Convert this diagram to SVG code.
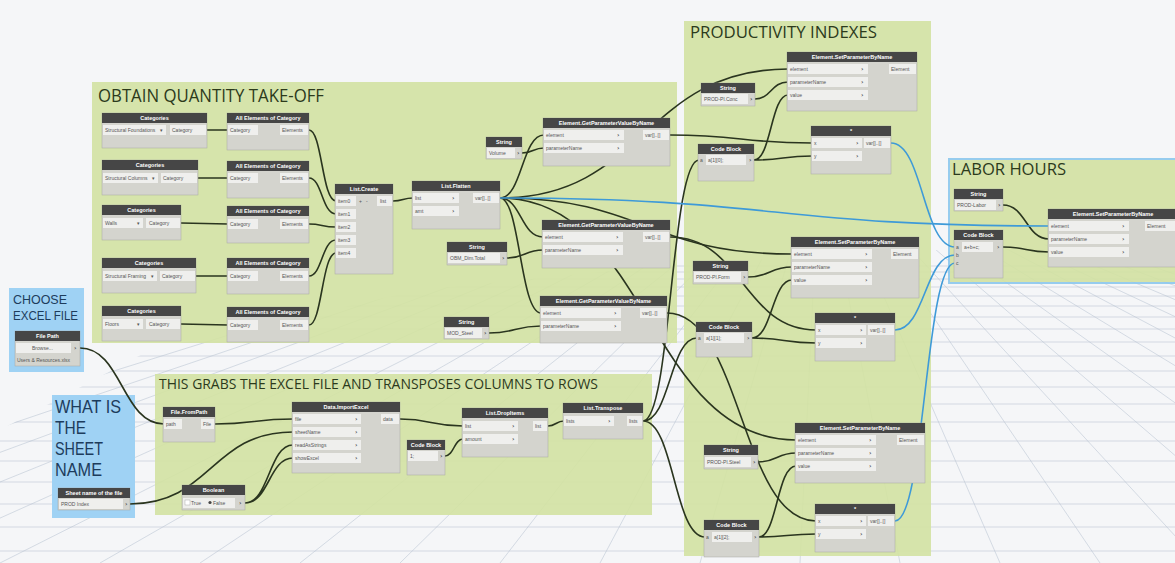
<svg xmlns="http://www.w3.org/2000/svg" width="1175" height="563" viewBox="0 0 1175 563">
<style>
.bg{fill:#f5f6f8}
.gl{stroke:#b9c4d3;stroke-width:0.7;fill:none;opacity:0.8}
.grg{fill:#d3e2a2;opacity:0.9}
.grb{fill:#9fd2f4}
.gtg{font-family:"Open Sans","Liberation Sans",sans-serif;fill:#2c3a1c}
.gtb{font-family:"Liberation Sans",Arial,sans-serif;fill:#1d3c5c}
.body{fill:#d4d4ce;stroke:#a9a9a3;stroke-width:0.5}
.hdr{fill:#464646}
.ht{font-family:"Liberation Sans",Arial,sans-serif;font-size:5.5px;fill:#ffffff;text-anchor:middle;font-weight:bold}
.pf{fill:#efefed}
.pt{font-family:"Liberation Sans",Arial,sans-serif;font-size:5px;fill:#555555}
.ch{font-family:"DejaVu Sans",sans-serif;font-size:6px;fill:#444444;font-weight:bold}
.w{stroke:#2a351f;stroke-width:1.6;fill:none}
.wb{stroke:#3e9ad8;stroke-width:1.6;fill:none}
</style>
<defs>
<clipPath id="gclip"><polygon points="0,430 150,350 420,290 700,262 1175,238 1175,563 0,563"/></clipPath>
</defs>
<rect class="bg" x="0" y="0" width="1175" height="563"/>
<g id="grid" clip-path="url(#gclip)">
<path class="gl" d="M0 266H1175M0 272H1175M0 279H1175M0 287H1175M0 296H1175M0 306H1175M0 317H1175M0 329H1175M0 342H1175M0 356H1175M0 371H1175M0 387H1175M0 404H1175M0 422H1175M0 441H1175M0 461H1175M0 482H1175M0 504H1175M0 527H1175M0 551H1175"/>
<path class="gl" d="M820 150L-1600 563M820 150L-1500 563M820 150L-1400 563M820 150L-1300 563M820 150L-1200 563M820 150L-1100 563M820 150L-1000 563M820 150L-900 563M820 150L-800 563M820 150L-700 563M820 150L-600 563M820 150L-500 563M820 150L-400 563M820 150L-300 563M820 150L-200 563M820 150L-100 563M820 150L0 563M820 150L100 563M820 150L200 563M820 150L300 563M820 150L400 563M820 150L500 563M820 150L600 563M820 150L700 563M820 150L800 563M820 150L900 563M820 150L1000 563M820 150L1100 563M820 150L1200 563M820 150L1300 563M820 150L1400 563M820 150L1500 563M820 150L1600 563M820 150L1700 563M820 150L1800 563M820 150L1900 563M820 150L2000 563M820 150L2100 563M820 150L2200 563M820 150L2300 563M820 150L2400 563M820 150L2500 563M820 150L2600 563M820 150L2700 563M820 150L2800 563M820 150L2900 563M820 150L3000 563M820 150L3100 563M820 150L3200 563"/>
</g>

<g id="group-obtain">
<rect class="grg" x="92" y="82" width="585" height="261"/>
<text class="gtg" x="98" y="102" font-size="18" textLength="226" lengthAdjust="spacingAndGlyphs">OBTAIN QUANTITY TAKE-OFF</text>
</g>
<g id="group-productivity">
<rect class="grg" x="684" y="21" width="247" height="535"/>
<text class="gtg" x="690" y="38" font-size="16.5" textLength="187" lengthAdjust="spacingAndGlyphs">PRODUCTIVITY INDEXES</text>
</g>
<g id="group-labor">
<rect class="grg" x="949" y="159" width="232" height="124" stroke="#8cc8ee" stroke-width="2"/>
<text class="gtg" x="952" y="175" font-size="15.5" textLength="114" lengthAdjust="spacingAndGlyphs">LABOR HOURS</text>
</g>
<g id="group-choose">
<rect class="grb" x="9" y="288" width="75" height="84"/>
<text class="gtb" x="13" y="304" font-size="13.5" textLength="54" lengthAdjust="spacingAndGlyphs">CHOOSE</text>
<text class="gtb" x="13" y="320" font-size="13.5" textLength="65" lengthAdjust="spacingAndGlyphs">EXCEL FILE</text>
</g>
<g id="group-sheet">
<rect class="grb" x="52" y="395" width="83" height="123"/>
<text class="gtb" x="55" y="413" font-size="17.5" textLength="66" lengthAdjust="spacingAndGlyphs">WHAT IS</text>
<text class="gtb" x="55" y="434" font-size="17.5" textLength="31" lengthAdjust="spacingAndGlyphs">THE</text>
<text class="gtb" x="55" y="455" font-size="17.5" textLength="48" lengthAdjust="spacingAndGlyphs">SHEET</text>
<text class="gtb" x="55" y="476" font-size="17.5" textLength="47" lengthAdjust="spacingAndGlyphs">NAME</text>
</g>
<g id="group-excel">
<rect class="grg" x="155" y="374" width="497" height="141"/>
<text class="gtg" x="159" y="389" font-size="14" textLength="439" lengthAdjust="spacingAndGlyphs">THIS GRABS THE EXCEL FILE AND TRANSPOSES COLUMNS TO ROWS</text>
</g>

<g id="connectors">
<path class="w" d="M207 130L228 130M198 178L228 178M181 223L228 224M196 276L228 276M181 324L228 325"/>
<path class="w" d="M309 130C322 130 322 201 336 201M309 178C322 178 322 214 336 214M309 224C322 224 322 227 336 227M309 276C322 276 322 240 336 240M309 325C322 325 322 253 336 253"/>
<path class="w" d="M393 201C403 201 403 198 413 198"/>
<path class="w" d="M500 198C522 198 522 135 544 135M500 198C521 198 521 237 543 237M500 198C520 198 520 313 541 313"/>
<path class="w" d="M500 198C644 198 644 69 788 69M500 198C646 198 646 254 792 254M500 198C648 198 648 440 796 440"/>
<path class="w" d="M522 153C533 153 533 148 544 148M507 258C525 258 525 250 543 250M489 333C515 333 515 326 541 326"/>
<path class="w" d="M670 135C741 135 741 143 812 143M670 237C743 237 743 330 816 330M667 313C741 313 741 521 816 521"/>
<path class="w" d="M755 99C771 99 771 82 788 82M754 160C771 160 771 95 788 95M754 160C783 160 783 156 812 156"/>
<path class="w" d="M748 277C770 277 770 267 792 267M752 338C772 338 772 280 792 280M752 338C784 338 784 343 816 343"/>
<path class="w" d="M758 462C777 462 777 453 796 453M759 537C777 537 777 466 796 466M759 537C787 537 787 534 816 534"/>
<path class="w" d="M643 421C671 421 671 160 699 160M643 421C670 421 670 338 697 338M643 421C674 421 674 537 705 537"/>
<path class="w" d="M80 348C122 348 122 424 164 424M130 504C211 504 211 432 293 432M245 503C269 503 269 445 293 445M245 503C269 503 269 458 293 458"/>
<path class="w" d="M215 424C254 424 254 419 293 419M400 419C431 419 431 426 463 426M445 456C454 456 454 439 463 439M548 426C556 426 556 421 564 421"/>
<path class="w" d="M1003 205C1026 205 1026 239 1049 239M1003 247C1026 247 1026 252 1049 252"/>
<path class="wb" d="M500 198C775 198 775 226 1049 226"/>
<path class="wb" d="M891 143C923 143 923 247 955 247M895 330C925 330 925 255 955 255M895 521C925 521 925 263 955 263"/>
</g>

<g id="cat1">
<rect class="body" x="102" y="113" width="105" height="35"/><rect class="hdr" x="102" y="113" width="105" height="10"/>
<text class="ht" x="154.5" y="120">Categories</text>
<rect class="pf" x="103" y="125" width="63" height="10"/><text class="pt" x="105" y="132">Structural Foundations</text><text class="pt" x="160" y="132">▾</text>
<rect class="pf" x="170" y="125" width="36" height="10"/><text class="pt" x="172" y="132">Category</text>
</g>
<g id="cat2">
<rect class="body" x="102" y="160" width="96" height="35"/><rect class="hdr" x="102" y="160" width="96" height="10"/>
<text class="ht" x="150" y="167">Categories</text>
<rect class="pf" x="103" y="173" width="55" height="10"/><text class="pt" x="105" y="180">Structural Columns</text><text class="pt" x="152" y="180">▾</text>
<rect class="pf" x="161" y="173" width="36" height="10"/><text class="pt" x="163" y="180">Category</text>
</g>
<g id="cat3">
<rect class="body" x="102" y="205" width="79" height="35"/><rect class="hdr" x="102" y="205" width="79" height="10"/>
<text class="ht" x="141.5" y="212">Categories</text>
<rect class="pf" x="103" y="218" width="40" height="10"/><text class="pt" x="105" y="225">Walls</text><text class="pt" x="137" y="225">▾</text>
<rect class="pf" x="146" y="218" width="34" height="10"/><text class="pt" x="149" y="225">Category</text>
</g>
<g id="cat4">
<rect class="body" x="102" y="258" width="94" height="35"/><rect class="hdr" x="102" y="258" width="94" height="10"/>
<text class="ht" x="149" y="265">Categories</text>
<rect class="pf" x="103" y="271" width="54" height="10"/><text class="pt" x="105" y="278">Structural Framing</text><text class="pt" x="151" y="278">▾</text>
<rect class="pf" x="160" y="271" width="35" height="10"/><text class="pt" x="162" y="278">Category</text>
</g>
<g id="cat5">
<rect class="body" x="102" y="306" width="79" height="35"/><rect class="hdr" x="102" y="306" width="79" height="10"/>
<text class="ht" x="141.5" y="313">Categories</text>
<rect class="pf" x="103" y="319" width="40" height="10"/><text class="pt" x="105" y="326">Floors</text><text class="pt" x="137" y="326">▾</text>
<rect class="pf" x="146" y="319" width="34" height="10"/><text class="pt" x="149" y="326">Category</text>
</g>

<g id="aeoc1">
<rect class="body" x="227" y="113" width="82" height="37"/><rect class="hdr" x="227" y="113" width="82" height="10"/>
<text class="ht" x="268" y="120">All Elements of Category</text>
<rect class="pf" x="228" y="125" width="30" height="10"/><text class="pt" x="230" y="132">Category</text>
<rect class="pf" x="280" y="125" width="28" height="10"/><text class="pt" x="282" y="132">Elements</text>
</g>
<g id="aeoc2">
<rect class="body" x="227" y="161" width="82" height="37"/><rect class="hdr" x="227" y="161" width="82" height="10"/>
<text class="ht" x="268" y="168">All Elements of Category</text>
<rect class="pf" x="228" y="173" width="30" height="10"/><text class="pt" x="230" y="180">Category</text>
<rect class="pf" x="280" y="173" width="28" height="10"/><text class="pt" x="282" y="180">Elements</text>
</g>
<g id="aeoc3">
<rect class="body" x="227" y="206" width="82" height="37"/><rect class="hdr" x="227" y="206" width="82" height="10"/>
<text class="ht" x="268" y="213">All Elements of Category</text>
<rect class="pf" x="228" y="219" width="30" height="10"/><text class="pt" x="230" y="226">Category</text>
<rect class="pf" x="280" y="219" width="28" height="10"/><text class="pt" x="282" y="226">Elements</text>
</g>
<g id="aeoc4">
<rect class="body" x="227" y="258" width="82" height="36"/><rect class="hdr" x="227" y="258" width="82" height="10"/>
<text class="ht" x="268" y="265">All Elements of Category</text>
<rect class="pf" x="228" y="271" width="30" height="10"/><text class="pt" x="230" y="278">Category</text>
<rect class="pf" x="280" y="271" width="28" height="10"/><text class="pt" x="282" y="278">Elements</text>
</g>
<g id="aeoc5">
<rect class="body" x="227" y="307" width="82" height="35"/><rect class="hdr" x="227" y="307" width="82" height="10"/>
<text class="ht" x="268" y="314">All Elements of Category</text>
<rect class="pf" x="228" y="320" width="30" height="10"/><text class="pt" x="230" y="327">Category</text>
<rect class="pf" x="280" y="320" width="28" height="10"/><text class="pt" x="282" y="327">Elements</text>
</g>

<g id="list-create">
<rect class="body" x="335" y="184" width="58" height="90"/><rect class="hdr" x="335" y="184" width="58" height="10"/>
<text class="ht" x="364" y="191">List.Create</text>
<rect class="pf" x="336" y="196" width="20" height="10"/><text class="pt" x="338" y="203">item0</text>
<text class="pt" x="359" y="203">+</text><text class="pt" x="366" y="203">-</text>
<rect class="pf" x="377" y="196" width="15" height="10"/><text class="pt" x="380" y="203">list</text>
<rect class="pf" x="336" y="209" width="20" height="10"/><text class="pt" x="338" y="216">item1</text>
<rect class="pf" x="336" y="222" width="20" height="10"/><text class="pt" x="338" y="229">item2</text>
<rect class="pf" x="336" y="235" width="20" height="10"/><text class="pt" x="338" y="242">item3</text>
<rect class="pf" x="336" y="248" width="20" height="10"/><text class="pt" x="338" y="255">item4</text>
</g>

<g id="list-flatten">
<rect class="body" x="412" y="181" width="88" height="48"/><rect class="hdr" x="412" y="181" width="88" height="10"/>
<text class="ht" x="456" y="188">List.Flatten</text>
<rect class="pf" x="413" y="193" width="46" height="10"/><text class="pt" x="415" y="200">list</text><text class="ch" x="452" y="200">›</text>
<rect class="pf" x="413" y="206" width="46" height="10"/><text class="pt" x="415" y="213">amt</text><text class="ch" x="452" y="213">›</text>
<rect class="pf" x="473" y="193" width="26" height="10"/><text class="pt" x="475" y="200">var[]..[]</text>
</g>

<g id="str-volume">
<rect class="body" x="486" y="137" width="36" height="22"/><rect class="hdr" x="486" y="137" width="36" height="10"/>
<text class="ht" x="504" y="144">String</text>
<rect class="pf" x="487" y="148" width="28" height="10"/><text class="pt" x="489" y="155">Volume</text><text class="ch" x="517" y="155">›</text>
</g>
<g id="gpv1">
<rect class="body" x="543" y="118" width="127" height="48"/><rect class="hdr" x="543" y="118" width="127" height="10"/>
<text class="ht" x="606.5" y="125">Element.GetParameterValueByName</text>
<rect class="pf" x="544" y="130" width="80" height="10"/><text class="pt" x="546" y="137">element</text><text class="ch" x="617" y="137">›</text>
<rect class="pf" x="544" y="143" width="80" height="10"/><text class="pt" x="546" y="150">parameterName</text><text class="ch" x="617" y="150">›</text>
<rect class="pf" x="643" y="130" width="26" height="10"/><text class="pt" x="645" y="137">var[]..[]</text>
</g>
<g id="str-obm">
<rect class="body" x="447" y="242" width="60" height="23"/><rect class="hdr" x="447" y="242" width="60" height="10"/>
<text class="ht" x="477" y="249">String</text>
<rect class="pf" x="448" y="253" width="52" height="10"/><text class="pt" x="450" y="260">OBM_Dim.Total</text><text class="ch" x="502" y="260">›</text>
</g>
<g id="gpv2">
<rect class="body" x="542" y="220" width="128" height="48"/><rect class="hdr" x="542" y="220" width="128" height="10"/>
<text class="ht" x="606" y="227">Element.GetParameterValueByName</text>
<rect class="pf" x="543" y="232" width="80" height="10"/><text class="pt" x="545" y="239">element</text><text class="ch" x="616" y="239">›</text>
<rect class="pf" x="543" y="245" width="80" height="10"/><text class="pt" x="545" y="252">parameterName</text><text class="ch" x="616" y="252">›</text>
<rect class="pf" x="643" y="232" width="26" height="10"/><text class="pt" x="645" y="239">var[]..[]</text>
</g>
<g id="str-mod">
<rect class="body" x="444" y="317" width="45" height="22"/><rect class="hdr" x="444" y="317" width="45" height="10"/>
<text class="ht" x="466.5" y="324">String</text>
<rect class="pf" x="445" y="328" width="37" height="10"/><text class="pt" x="447" y="335">MOD_Steel</text><text class="ch" x="484" y="335">›</text>
</g>
<g id="gpv3">
<rect class="body" x="540" y="296" width="127" height="47"/><rect class="hdr" x="540" y="296" width="127" height="10"/>
<text class="ht" x="603.5" y="303">Element.GetParameterValueByName</text>
<rect class="pf" x="541" y="308" width="80" height="10"/><text class="pt" x="543" y="315">element</text><text class="ch" x="614" y="315">›</text>
<rect class="pf" x="541" y="321" width="80" height="10"/><text class="pt" x="543" y="328">parameterName</text><text class="ch" x="614" y="328">›</text>
<rect class="pf" x="640" y="308" width="26" height="10"/><text class="pt" x="642" y="315">var[]..[]</text>
</g>

<g id="setp1">
<rect class="body" x="787" y="52" width="130" height="59"/><rect class="hdr" x="787" y="52" width="130" height="10"/>
<text class="ht" x="852" y="59">Element.SetParameterByName</text>
<rect class="pf" x="788" y="64" width="80" height="10"/><text class="pt" x="790" y="71">element</text><text class="ch" x="861" y="71">›</text>
<rect class="pf" x="788" y="77" width="80" height="10"/><text class="pt" x="790" y="84">parameterName</text><text class="ch" x="861" y="84">›</text>
<rect class="pf" x="788" y="90" width="80" height="10"/><text class="pt" x="790" y="97">value</text><text class="ch" x="861" y="97">›</text>
<rect class="pf" x="889" y="64" width="27" height="10"/><text class="pt" x="891" y="71">Element</text>
</g>
<g id="str-conc">
<rect class="body" x="701" y="83" width="54" height="23"/><rect class="hdr" x="701" y="83" width="54" height="10"/>
<text class="ht" x="728" y="90">String</text>
<rect class="pf" x="702" y="94" width="46" height="10"/><text class="pt" x="704" y="101">PROD-Pl.Conc</text><text class="ch" x="750" y="101">›</text>
</g>
<g id="cb1">
<rect class="body" x="698" y="144" width="56" height="37"/><rect class="hdr" x="698" y="144" width="56" height="10"/>
<text class="ht" x="726" y="151">Code Block</text>
<text class="pt" x="700" y="162">a</text>
<rect class="pf" x="706" y="155" width="40" height="10"/><text class="pt" x="708" y="162">a[1][0];</text><text class="ch" x="749" y="162">›</text>
</g>
<g id="mul1">
<rect class="body" x="811" y="126" width="80" height="48"/><rect class="hdr" x="811" y="126" width="80" height="10"/>
<text class="ht" x="851" y="133">*</text>
<rect class="pf" x="812" y="138" width="50" height="10"/><text class="pt" x="814" y="145">x</text><text class="ch" x="856" y="145">›</text>
<rect class="pf" x="812" y="151" width="50" height="10"/><text class="pt" x="814" y="158">y</text><text class="ch" x="856" y="158">›</text>
<rect class="pf" x="864" y="138" width="26" height="10"/><text class="pt" x="866" y="145">var[]..[]</text>
</g>

<g id="setp2">
<rect class="body" x="791" y="237" width="128" height="61"/><rect class="hdr" x="791" y="237" width="128" height="10"/>
<text class="ht" x="855" y="244">Element.SetParameterByName</text>
<rect class="pf" x="792" y="249" width="80" height="10"/><text class="pt" x="794" y="256">element</text><text class="ch" x="865" y="256">›</text>
<rect class="pf" x="792" y="262" width="80" height="10"/><text class="pt" x="794" y="269">parameterName</text><text class="ch" x="865" y="269">›</text>
<rect class="pf" x="792" y="275" width="80" height="10"/><text class="pt" x="794" y="282">value</text><text class="ch" x="865" y="282">›</text>
<rect class="pf" x="891" y="249" width="27" height="10"/><text class="pt" x="893" y="256">Element</text>
</g>
<g id="str-form">
<rect class="body" x="693" y="261" width="55" height="23"/><rect class="hdr" x="693" y="261" width="55" height="10"/>
<text class="ht" x="720.5" y="268">String</text>
<rect class="pf" x="694" y="272" width="47" height="10"/><text class="pt" x="696" y="279">PROD-Pl.Form</text><text class="ch" x="743" y="279">›</text>
</g>
<g id="cb2">
<rect class="body" x="696" y="322" width="56" height="35"/><rect class="hdr" x="696" y="322" width="56" height="10"/>
<text class="ht" x="724" y="329">Code Block</text>
<text class="pt" x="698" y="340">a</text>
<rect class="pf" x="704" y="333" width="40" height="10"/><text class="pt" x="706" y="340">a[1][1];</text><text class="ch" x="747" y="340">›</text>
</g>
<g id="mul2">
<rect class="body" x="815" y="313" width="80" height="48"/><rect class="hdr" x="815" y="313" width="80" height="10"/>
<text class="ht" x="855" y="320">*</text>
<rect class="pf" x="816" y="325" width="50" height="10"/><text class="pt" x="818" y="332">x</text><text class="ch" x="860" y="332">›</text>
<rect class="pf" x="816" y="338" width="50" height="10"/><text class="pt" x="818" y="345">y</text><text class="ch" x="860" y="345">›</text>
<rect class="pf" x="868" y="325" width="26" height="10"/><text class="pt" x="870" y="332">var[]..[]</text>
</g>

<g id="setp3">
<rect class="body" x="795" y="423" width="130" height="60"/><rect class="hdr" x="795" y="423" width="130" height="10"/>
<text class="ht" x="860" y="430">Element.SetParameterByName</text>
<rect class="pf" x="796" y="435" width="80" height="10"/><text class="pt" x="798" y="442">element</text><text class="ch" x="869" y="442">›</text>
<rect class="pf" x="796" y="448" width="80" height="10"/><text class="pt" x="798" y="455">parameterName</text><text class="ch" x="869" y="455">›</text>
<rect class="pf" x="796" y="461" width="80" height="10"/><text class="pt" x="798" y="468">value</text><text class="ch" x="869" y="468">›</text>
<rect class="pf" x="897" y="435" width="27" height="10"/><text class="pt" x="899" y="442">Element</text>
</g>
<g id="str-steel">
<rect class="body" x="704" y="445" width="54" height="24"/><rect class="hdr" x="704" y="445" width="54" height="10"/>
<text class="ht" x="731" y="452">String</text>
<rect class="pf" x="705" y="457" width="46" height="10"/><text class="pt" x="707" y="464">PROD-Pl.Steel</text><text class="ch" x="753" y="464">›</text>
</g>
<g id="cb3">
<rect class="body" x="704" y="520" width="55" height="37"/><rect class="hdr" x="704" y="520" width="55" height="10"/>
<text class="ht" x="731.5" y="527">Code Block</text>
<text class="pt" x="706" y="539">a</text>
<rect class="pf" x="712" y="532" width="40" height="10"/><text class="pt" x="714" y="539">a[1][2];</text><text class="ch" x="754" y="539">›</text>
</g>
<g id="mul3">
<rect class="body" x="815" y="504" width="80" height="48"/><rect class="hdr" x="815" y="504" width="80" height="10"/>
<text class="ht" x="855" y="511">*</text>
<rect class="pf" x="816" y="516" width="50" height="10"/><text class="pt" x="818" y="523">x</text><text class="ch" x="860" y="523">›</text>
<rect class="pf" x="816" y="529" width="50" height="10"/><text class="pt" x="818" y="536">y</text><text class="ch" x="860" y="536">›</text>
<rect class="pf" x="868" y="516" width="26" height="10"/><text class="pt" x="870" y="523">var[]..[]</text>
</g>

<g id="str-labor">
<rect class="body" x="954" y="189" width="49" height="22"/><rect class="hdr" x="954" y="189" width="49" height="10"/>
<text class="ht" x="978.5" y="196">String</text>
<rect class="pf" x="955" y="200" width="41" height="10"/><text class="pt" x="957" y="207">PROD-Labor</text><text class="ch" x="998" y="207">›</text>
</g>
<g id="cb-labor">
<rect class="body" x="954" y="230" width="49" height="48"/><rect class="hdr" x="954" y="230" width="49" height="10"/>
<text class="ht" x="978.5" y="237">Code Block</text>
<text class="pt" x="956" y="249">a</text><text class="pt" x="956" y="257">b</text><text class="pt" x="956" y="265">c</text>
<rect class="pf" x="962" y="242" width="31" height="10"/><text class="pt" x="964" y="249">a+b+c;</text><text class="ch" x="997" y="249">›</text>
</g>
<g id="setp-labor">
<rect class="body" x="1048" y="209" width="140" height="58"/><rect class="hdr" x="1048" y="209" width="140" height="10"/>
<text class="ht" x="1113" y="216">Element.SetParameterByName</text>
<rect class="pf" x="1049" y="221" width="80" height="10"/><text class="pt" x="1051" y="228">element</text><text class="ch" x="1122" y="228">›</text>
<rect class="pf" x="1049" y="234" width="80" height="10"/><text class="pt" x="1051" y="241">parameterName</text><text class="ch" x="1122" y="241">›</text>
<rect class="pf" x="1049" y="247" width="80" height="10"/><text class="pt" x="1051" y="254">value</text><text class="ch" x="1122" y="254">›</text>
<rect class="pf" x="1145" y="221" width="30" height="10"/><text class="pt" x="1147" y="228">Element</text>
</g>

<g id="file-path">
<rect class="body" x="15" y="331" width="65" height="35"/><rect class="hdr" x="15" y="331" width="65" height="10"/>
<text class="ht" x="47.5" y="338">File Path</text>
<rect class="pf" x="16" y="343" width="55" height="10"/><text class="pt" x="32" y="350">Browse...</text><text class="ch" x="74" y="350">›</text>
<text class="pt" x="17" y="362" font-size="4.5">Users &amp; Resources.xlsx</text>
</g>
<g id="sheet-name">
<rect class="body" x="58" y="488" width="72" height="22"/><rect class="hdr" x="58" y="488" width="72" height="10"/>
<text class="ht" x="94" y="495">Sheet name of the file</text>
<rect class="pf" x="59" y="499" width="64" height="10"/><text class="pt" x="61" y="506">PROD Index</text><text class="ch" x="125" y="506">›</text>
</g>
<g id="file-frompath">
<rect class="body" x="163" y="407" width="52" height="35"/><rect class="hdr" x="163" y="407" width="52" height="10"/>
<text class="ht" x="189" y="414">File.FromPath</text>
<rect class="pf" x="164" y="419" width="18" height="10"/><text class="pt" x="166" y="426">path</text>
<rect class="pf" x="201" y="419" width="13" height="10"/><text class="pt" x="203" y="426">File</text>
</g>
<g id="import-excel">
<rect class="body" x="292" y="402" width="108" height="71"/><rect class="hdr" x="292" y="402" width="108" height="10"/>
<text class="ht" x="346" y="409">Data.ImportExcel</text>
<rect class="pf" x="293" y="414" width="68" height="10"/><text class="pt" x="295" y="421">file</text><text class="ch" x="355" y="421">›</text>
<rect class="pf" x="293" y="427" width="68" height="10"/><text class="pt" x="295" y="434">sheetName</text><text class="ch" x="355" y="434">›</text>
<rect class="pf" x="293" y="440" width="68" height="10"/><text class="pt" x="295" y="447">readAsStrings</text><text class="ch" x="355" y="447">›</text>
<rect class="pf" x="293" y="453" width="68" height="10"/><text class="pt" x="295" y="460">showExcel</text><text class="ch" x="355" y="460">›</text>
<rect class="pf" x="381" y="414" width="18" height="10"/><text class="pt" x="383" y="421">data</text>
</g>
<g id="boolean">
<rect class="body" x="182" y="485" width="63" height="25"/><rect class="hdr" x="182" y="485" width="63" height="10"/>
<text class="ht" x="213.5" y="492">Boolean</text>
<rect class="pf" x="183" y="498" width="52" height="10"/>
<rect x="185" y="500" width="5" height="5" fill="#ffffff" stroke="#999" stroke-width="0.4"/><text class="pt" x="191" y="505">True</text>
<circle cx="210" cy="502.5" r="1.6" fill="#444"/><text class="pt" x="213" y="505">False</text>
<text class="ch" x="239" y="505">›</text>
</g>
<g id="cb-one">
<rect class="body" x="407" y="440" width="38" height="35"/><rect class="hdr" x="407" y="440" width="38" height="10"/>
<text class="ht" x="426" y="447">Code Block</text>
<rect class="pf" x="408" y="451" width="30" height="10"/><text class="pt" x="410" y="458">1;</text><text class="ch" x="440" y="458">›</text>
</g>
<g id="drop-items">
<rect class="body" x="462" y="408" width="86" height="49"/><rect class="hdr" x="462" y="408" width="86" height="10"/>
<text class="ht" x="505" y="415">List.DropItems</text>
<rect class="pf" x="463" y="421" width="55" height="10"/><text class="pt" x="465" y="428">list</text><text class="ch" x="512" y="428">›</text>
<rect class="pf" x="463" y="434" width="55" height="10"/><text class="pt" x="465" y="441">amount</text><text class="ch" x="512" y="441">›</text>
<rect class="pf" x="533" y="421" width="14" height="10"/><text class="pt" x="535" y="428">list</text>
</g>
<g id="transpose">
<rect class="body" x="563" y="403" width="80" height="36"/><rect class="hdr" x="563" y="403" width="80" height="10"/>
<text class="ht" x="603" y="410">List.Transpose</text>
<rect class="pf" x="564" y="416" width="50" height="10"/><text class="pt" x="566" y="423">lists</text><text class="ch" x="608" y="423">›</text>
<rect class="pf" x="627" y="416" width="15" height="10"/><text class="pt" x="629" y="423">lists</text>
</g>
</svg>
